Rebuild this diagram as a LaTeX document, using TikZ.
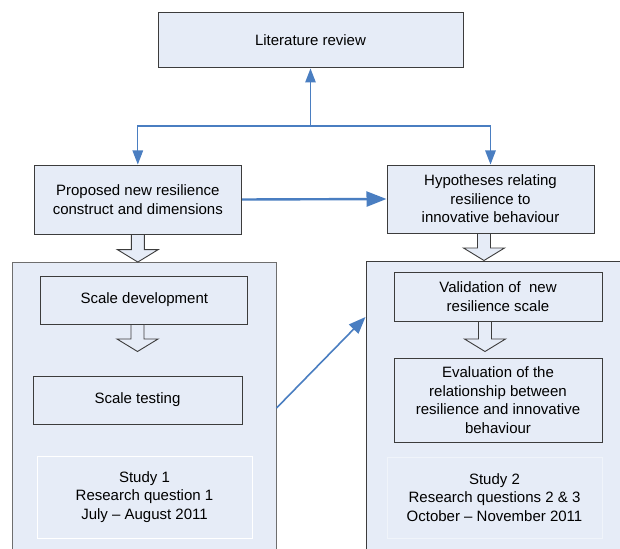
\documentclass[tikz,border=0pt]{standalone}
\usepackage{fontspec}
\setmainfont{Liberation Sans}
\usetikzlibrary{arrows.meta,calc}

\definecolor{boxfill}{RGB}{230,236,247}
\definecolor{linkblue}{RGB}{74,126,193}
\definecolor{edgegray}{RGB}{60,60,60}
\definecolor{framegray}{RGB}{110,110,110}

% hollow downward block arrow: #1 = top of the shaft, #2 = tip
\newcommand{\hollowdown}[2]{%
  \draw[blockarrow] let \p1=(#1), \p2=(#2) in
    (\x2-6.5pt,\y1) -- (\x2+6.5pt,\y1) -- (\x2+6.5pt,\y2+12.5pt)
    -- (\x2+20.5pt,\y2+12.5pt) -- (\x2,\y2) -- (\x2-20.5pt,\y2+12.5pt)
    -- (\x2-6.5pt,\y2+12.5pt) -- cycle;}

\tikzset{
  box/.style={draw=edgegray, line width=1pt, fill=boxfill, align=center,
    inner sep=0pt, font=\fontsize{15}{18.5}\selectfont},
  innerbox/.style={draw=edgegray, line width=1pt, align=center,
    inner sep=0pt, font=\fontsize{15}{18.5}\selectfont},
  labelbox/.style={align=center, inner sep=0pt,
    font=\fontsize{15}{18.5}\selectfont},
  frame/.style={fill=boxfill, line width=1pt, inner sep=0pt},
  blockarrow/.style={draw=edgegray, line width=0.9pt, fill=boxfill,
    line join=miter},
  thinlink/.style={draw=linkblue, line width=1.2pt,
    -{Triangle[length=14pt,width=10.5pt]}},
  thicklink/.style={draw=linkblue, line width=2.4pt,
    -{Triangle[length=20pt,width=15pt]}},
  diaglink/.style={draw=linkblue, line width=1.6pt,
    -{Triangle[length=17pt,width=13pt]}},
}

\begin{document}
\begin{tikzpicture}[x=1pt,y=-1pt]
  \clip (0,0) rectangle (620,548);
  \fill[white] (0,0) rectangle (620,548);

  % top level
  \node[box, minimum width=305pt, minimum height=55pt] (lit) at (310.5,40.5)
    {Literature review};
  \node[box, minimum width=207.5pt, minimum height=69pt] (prop) at (137.8,199.5)
    {Proposed new resilience\\construct and dimensions};
  \node[box, minimum width=207pt, minimum height=68pt] (hyp) at (490.5,199)
    {Hypotheses relating\\resilience to\\innovative behaviour};

  % study frames (running past the lower edge)
  \node[frame, draw=framegray, minimum width=263.5pt, minimum height=307.5pt]
    (s1) at (144.3,416.3) {};
  \node[frame, draw=edgegray, minimum width=274pt, minimum height=309pt]
    (s2) at (503,415.5) {};

  % study 1 content
  \node[innerbox, minimum width=207.3pt, minimum height=48pt] (dev) at (144.3,300)
    {Scale development};
  \node[innerbox, minimum width=209pt, minimum height=48pt] (test) at (137.5,400)
    {Scale testing};
  \node[labelbox, draw=white, line width=0.8pt, minimum width=215pt,
    minimum height=82pt] (st1) at (144.5,497)
    {Study 1\\Research question 1\\July -- August 2011};

  % study 2 content
  \node[innerbox, minimum width=208pt, minimum height=49pt] (val) at (498,296.5)
    {Validation of~~new\\resilience scale};
  \node[innerbox, minimum width=208pt, minimum height=84pt] (eval) at (498,400)
    {Evaluation of the\\relationship between\\resilience and innovative\\behaviour};
  \node[labelbox, draw=boxfill!60!white, line width=0.8pt, minimum width=215pt,
    minimum height=81pt] (st2) at (494.5,497.5)
    {Study 2\\Research questions 2 \& 3\\October -- November 2011};

  % hollow flow arrows
  \hollowdown{prop.south}{prop.south |- s1.north}
  \hollowdown{[xshift=-6.5pt]hyp.south}{[xshift=-6.5pt]hyp.south |- s2.north}
  \hollowdown{test.north |- dev.south}{[yshift=24pt]test.north}
  \hollowdown{[xshift=-13pt]val.south}{[xshift=-13pt,yshift=6pt]eval.north}

  % links to and from the literature review
  \coordinate (j) at (lit.south |- 0,126);
  \draw[thinlink] (j) -- (lit.south);
  \draw[thinlink] (j) -| (prop.north);
  \draw[thinlink] (j) -| (hyp.north);

  % cross links
  \draw[thicklink] (prop.east) -- (hyp.west);
  \draw[diaglink] (s1.east |- 0,408) -- (s2.west |- 0,317);
\end{tikzpicture}
\end{document}
